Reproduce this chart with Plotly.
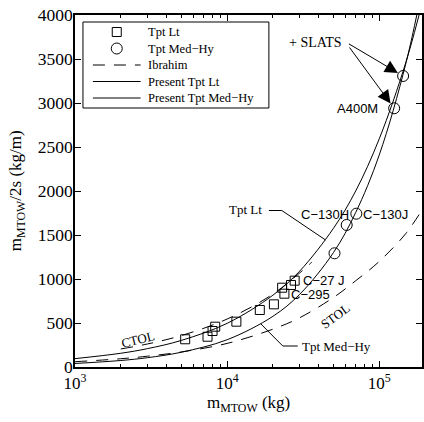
import math
import plotly.graph_objects as go

# ---------------- data ----------------
lt_mass = [5300, 7430, 8020, 8350, 11500, 16400, 20300, 23000, 23800, 26300, 27800]
lt_val = [315, 344, 409, 458, 515, 648, 712, 901, 833, 932, 981]

mh_mass = [50800, 61100, 70700, 125300, 143500]
mh_val = [1292, 1614, 1742, 2940, 3307]

curve_mass = [1000, 2000, 3000, 5000, 10000, 20000, 30000, 50000, 70000, 100000, 150000, 200000]
present_lt = [95, 156, 209, 302, 496, 816, 1090, 1576, 2000, 2593, 3468, 4265]
present_mh = [40, 74, 106, 168, 310, 576, 826, 1300, 1755, 2410, 3457, 4467]

ctol_mass = [2000, 3000, 5000, 10000, 20000, 36000]
ctol_val = [205, 262, 357, 545, 829, 1190]

stol_mass = [1000, 2000, 3000, 5000, 10000, 20000, 30000, 50000, 70000, 100000, 150000, 200000]
stol_val = [60, 94, 123, 171, 268, 430, 560, 790, 980, 1200, 1520, 1840]

x_ticks = [1e3, 1e4, 1e5]
x_ticktext = ["10<sup>3</sup>", "10<sup>4</sup>", "10<sup>5</sup>"]
y_ticks = [0, 500, 1000, 1500, 2000, 2500, 3000, 3500, 4000]

legend_names = ["Tpt Lt", "Tpt Med−Hy", "Ibrahim", "Present Tpt Lt", "Present Tpt Med−Hy"]

# ---------------- layout helpers ----------------
W, H = 424, 422
L, R, T, B = 75, 0, 15, 55
PW, PH = W - L - R, H - T - B
DEC = 153.0                      # pixels per decade
XLO = 3.0
XHI = XLO + PW / DEC
YLO, YHI = 0, 4000


def lx(px):
    return XLO + (px - L) / DEC


def vy(py):
    return (T + PH - py) * (YHI - YLO) / PH


def px_paper_x(px):
    return (px - L) / PW


def px_paper_y(py):
    return (T + PH - py) / PH


SERIF = "Liberation Serif, Times New Roman, serif"
SANS = "Liberation Sans, Arial, sans-serif"

SQ = dict(symbol="square-open", size=9, color="black", line=dict(width=1, color="black"))
CI = dict(symbol="circle-open", size=11, color="black", line=dict(width=1, color="black"))
DASH = dict(color="black", width=1, dash="12px,9px")
SOLID = dict(color="black", width=1)

fig = go.Figure()

fig.add_trace(go.Scatter(x=lt_mass, y=lt_val, mode="markers", name=legend_names[0],
                         showlegend=False, marker=SQ))
fig.add_trace(go.Scatter(x=mh_mass, y=mh_val, mode="markers", name=legend_names[1],
                         showlegend=False, marker=CI))
fig.add_trace(go.Scatter(x=ctol_mass, y=ctol_val, mode="lines", name=legend_names[2] + " CTOL",
                         showlegend=False, line_shape="spline", line=DASH))
fig.add_trace(go.Scatter(x=stol_mass, y=stol_val, mode="lines", name=legend_names[2] + " STOL",
                         showlegend=False, line_shape="spline", line=DASH))
fig.add_trace(go.Scatter(x=curve_mass, y=present_lt, mode="lines", name=legend_names[3],
                         showlegend=False, line_shape="spline", line=SOLID))
fig.add_trace(go.Scatter(x=curve_mass, y=present_mh, mode="lines", name=legend_names[4],
                         showlegend=False, line_shape="spline", line=SOLID))

# leader lines for curve labels
fig.add_trace(go.Scatter(
    x=[10 ** lx(270), 10 ** lx(283), 10 ** lx(327)], y=[vy(210.5), vy(210.5), vy(240)],
    mode="lines", showlegend=False, hoverinfo="skip", line=SOLID))
fig.add_trace(go.Scatter(
    x=[10 ** lx(299), 10 ** lx(284), 10 ** lx(262)], y=[vy(346), vy(346), vy(324)],
    mode="lines", showlegend=False, hoverinfo="skip", line=SOLID))

ann = []

# ---------------- legend (drawn by hand for exact row spacing) ----------------
LEG_ROWS = [32, 48.5, 65, 81.5, 98]
LEG_KEY = (93, 141)
LEG_TEXT_X = 146
fig.add_shape(type="rect", xref="paper", yref="paper",
              x0=px_paper_x(83), x1=px_paper_x(270), y0=px_paper_y(108), y1=px_paper_y(22),
              line=dict(color="black", width=1), fillcolor="white", layer="below")
keymid = 10 ** lx(sum(LEG_KEY) / 2)
fig.add_trace(go.Scatter(x=[keymid], y=[vy(LEG_ROWS[0])], mode="markers", marker=SQ,
                         showlegend=False, hoverinfo="skip"))
fig.add_trace(go.Scatter(x=[keymid], y=[vy(LEG_ROWS[1])], mode="markers", marker=CI,
                         showlegend=False, hoverinfo="skip"))
for row, style in zip(LEG_ROWS[2:], [DASH, SOLID, SOLID]):
    fig.add_trace(go.Scatter(x=[10 ** lx(LEG_KEY[0]), 10 ** lx(LEG_KEY[1])], y=[vy(row)] * 2,
                             mode="lines", line=style, showlegend=False, hoverinfo="skip"))
for row, name in zip(LEG_ROWS, legend_names):
    ann.append(dict(text=name, x=lx(LEG_TEXT_X), y=vy(row), xref="x", yref="y", showarrow=False,
                    xanchor="left", yanchor="middle",
                    font=dict(family=SERIF, size=12.5, color="black")))


def label(text, px, py, anchor="center", font=SERIF, size=13, angle=0):
    ann.append(dict(text=text, x=lx(px), y=vy(py), xref="x", yref="y", showarrow=False,
                    xanchor=anchor, yanchor="middle", textangle=angle,
                    font=dict(family=font, size=size, color="black")))


label("+ SLATS", 346, 42, "right", SERIF, 14)
label("A400M", 382, 108, "right", SANS, 13)
label("C−130H", 353, 214, "right", SANS, 13)
label("C−130J", 363, 214, "left", SANS, 13)
label("C−27 J", 302, 280, "left", SANS, 13)
label("C−295", 290, 294, "left", SANS, 13)
label("Tpt Lt", 265, 209, "right", SERIF, 13)
label("Tpt Med−Hy", 301, 346, "left", SERIF, 13)
label("CTOL", 138, 339, "center", SERIF, 13, -14)
label("STOL", 336, 316, "center", SERIF, 13, -36)

# arrows from "+ SLATS" to the two circles
for idx, (tx, ty) in zip([4, 3], [(349, 43), (350, 46)]):
    ann.append(dict(text="", x=math.log10(mh_mass[idx]), y=mh_val[idx], xref="x", yref="y",
                    ax=lx(tx), ay=vy(ty), axref="x", ayref="y", showarrow=True,
                    arrowhead=2, arrowsize=2.6, arrowwidth=1, arrowcolor="black", standoff=6))

# axis titles
ann.append(dict(text="m<sub>MTOW</sub> (kg)", x=0.5, y=px_paper_y(404), xref="paper", yref="paper",
                showarrow=False, xanchor="center", yanchor="middle",
                font=dict(family=SERIF, size=17, color="black")))
ann.append(dict(text="m<sub>MTOW</sub>/2s (kg/m)", x=px_paper_x(17), y=px_paper_y(191),
                xref="paper", yref="paper", showarrow=False, xanchor="center", yanchor="middle",
                textangle=-90, font=dict(family=SERIF, size=17, color="black")))

minor_x = [k * 10 ** e for e in (3, 4, 5) for k in range(2, 10)]

fig.update_layout(
    width=W, height=H, margin=dict(l=L, r=R, t=T, b=B, pad=0),
    paper_bgcolor="white", plot_bgcolor="white",
    font=dict(family=SERIF, size=17, color="black"),
    annotations=ann,
    showlegend=False,
    xaxis=dict(type="log", range=[XLO, XHI], tickmode="array", tickvals=x_ticks, ticktext=x_ticktext,
               ticks="inside", ticklen=6, tickwidth=1, tickcolor="black",
               showline=True, linecolor="black", linewidth=1.5, mirror="allticks",
               showgrid=False, zeroline=False,
               minor=dict(tickmode="array", tickvals=minor_x, ticks="inside", ticklen=3,
                          tickcolor="black", tickwidth=1, showgrid=False),
               tickfont=dict(family=SERIF, size=17, color="black")),
    yaxis=dict(range=[YLO, YHI], tickmode="array", tickvals=y_ticks,
               ticks="inside", ticklen=6, tickwidth=1, tickcolor="black",
               showline=True, linecolor="black", linewidth=1.5, mirror="allticks",
               showgrid=False, zeroline=False, ticklabelstandoff=-3,
               tickfont=dict(family=SERIF, size=17.5, color="black")),
)

fig.write_html("out.html")
